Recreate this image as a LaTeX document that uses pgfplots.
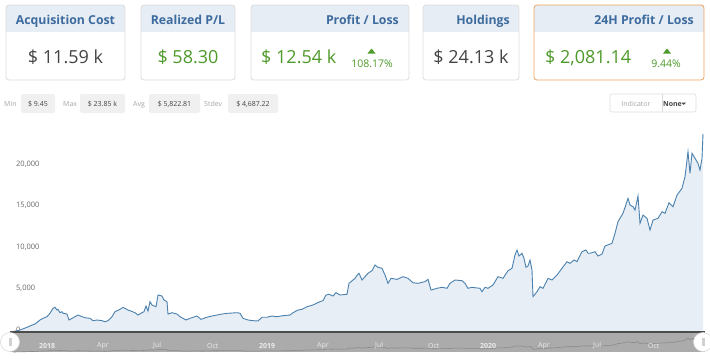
\documentclass[border=0pt]{standalone}
\usepackage{fontspec}
\setmainfont{Open Sans}
\usepackage{pgfplots}
\usepackage{pgfplotstable}
\pgfplotsset{compat=1.18}

\definecolor{cardhead}{HTML}{E6EDF5}
\definecolor{titleblue}{HTML}{3D6B9E}
\definecolor{valgreen}{HTML}{4E9A2A}
\definecolor{valgray}{HTML}{444444}
\definecolor{cardborder}{HTML}{DCDCDC}
\definecolor{orangeb}{HTML}{EBA35A}
\definecolor{linec}{HTML}{4A80AD}
\definecolor{fillc}{HTML}{E7EEF6}
\definecolor{navgray}{HTML}{ABABAB}
\definecolor{navline}{HTML}{8A8A8A}
\definecolor{statbox}{HTML}{F0F0F0}
\definecolor{statlab}{HTML}{A5A5A5}
\definecolor{stattxt}{HTML}{444444}
\definecolor{ticktxt}{HTML}{666666}

\pgfplotstableread{
x y
13 10
20 200
27 530
30 690
35 930
40 1410
43 1610
47 1810
50 2220
53 2820
55 2940
57 2610
58 2700
60 2290
62 2410
63 2220
67 2130
69 1410
72 1610
75 1810
78 2010
82 1810
85 1690
90 1610
93 1330
97 1410
102 1330
105 1200
108 1330
112 1810
115 2410
120 2700
123 2940
128 2610
130 2530
135 2290
138 2010
142 2290
144 2410
146 3100
148 2490
150 3620
152 3220
156 3010
158 4420
162 4300
164 3820
167 3620
168 2130
172 2290
177 2130
180 1810
186 1410
190 1610
197 1890
201 1490
207 1740
212 1890
217 2010
222 2130
228 2220
237 2290
240 2220
243 1610
248 1410
253 1330
258 1290
262 1740
267 1740
272 1890
277 1810
283 1930
290 2010
293 2290
298 2610
302 2700
307 3010
313 3220
320 3620
323 3740
326 4420
329 4510
333 4300
336 4700
340 4420
347 4510
349 5830
353 6230
355 6430
358 6950
359 7040
362 6230
365 6630
368 7040
372 7350
375 8040
378 7760
382 7640
385 6830
388 5830
391 6430
397 6310
403 6630
408 6430
413 5900
418 5830
425 6030
428 6310
431 5020
437 5230
442 5350
447 5230
450 5830
455 6230
462 6150
465 5830
468 5230
472 5350
475 5300
480 5230
482 4820
485 5350
488 5230
493 5630
498 6630
503 6430
508 7350
512 7640
515 9240
517 9850
519 9120
522 9450
524 8840
526 7760
528 7920
530 8640
532 7430
533 4220
537 4820
540 5420
543 5230
548 6430
552 6230
557 6830
562 7640
567 8440
570 8240
574 8640
577 8440
582 9640
586 9850
588 9450
590 9450
595 9640
598 9120
602 9360
605 10330
612 10650
615 11860
618 13260
623 14270
628 16070
630 15270
633 15060
635 14660
638 16350
640 13060
643 14060
647 13660
650 12250
653 13460
658 13660
662 14460
665 14270
669 15540
673 15060
677 16470
682 17280
685 18680
688 21690
690 19090
692 21500
695 20900
698 20290
700 19480
702 20900
703 23850
}\pricedata

\newcommand{\card}[3]{%
  \begin{scope}
    \clip[rounded corners=3] (#1,5) rectangle (#2,80);
    \fill[white] (#1,5) rectangle (#2,80);
    \fill[cardhead] (#1,5) rectangle (#2,32);
  \end{scope}
  \draw[#3, rounded corners=3, line width=0.8] (#1,5) rectangle (#2,80);
}
\newcommand{\titlefont}{\fontsize{12.3}{14}\selectfont\bfseries}
\newcommand{\valfont}{\fontsize{18}{20}\selectfont}
\newcommand{\pctfont}{\fontsize{10.5}{12}\selectfont}
\newcommand{\statfont}{\fontsize{7}{8}\selectfont}

\begin{document}
\begin{tikzpicture}
\path[use as bounding box] (0pt,0pt) rectangle (710pt,-359pt);
\begin{scope}[x=1pt,y=-1pt]
  % cards
  \card{6}{125}{cardborder}
  \card{141}{235}{cardborder}
  \card{251}{409}{cardborder}
  \card{423}{519}{cardborder}
  \card{534}{704}{orangeb}
  \node[anchor=base, inner sep=0, font=\titlefont, text=titleblue] at (65.5,24) {Acquisition Cost};
  \node[anchor=base, inner sep=0, font=\titlefont, text=titleblue] at (188,24) {Realized P/L};
  \node[anchor=base east, inner sep=0, font=\titlefont, text=titleblue] at (399,24) {Profit / Loss};
  \node[anchor=base east, inner sep=0, font=\titlefont, text=titleblue] at (510,24) {Holdings};
  \node[anchor=base east, inner sep=0, font=\titlefont, text=titleblue] at (694,24) {24H Profit / Loss};
  \node[anchor=base, inner sep=0, font=\valfont, text=valgray] at (65.5,63) {\$ 11.59 k};
  \node[anchor=base, inner sep=0, font=\valfont, text=valgreen] at (188,63) {\$ 58.30};
  \node[anchor=base west, inner sep=0, font=\valfont, text=valgreen] at (261,63) {\$ 12.54 k};
  \node[anchor=base, inner sep=0, font=\valfont, text=valgray] at (471,63) {\$ 24.13 k};
  \node[anchor=base west, inner sep=0, font=\valfont, text=valgreen] at (545,63) {\$ 2,081.14};
  \node[anchor=base, inner sep=0, font=\pctfont, text=valgreen] at (372,67) {108.17\%};
  \node[anchor=base, inner sep=0, font=\pctfont, text=valgreen] at (666,67) {9.44\%};
  \fill[valgreen] (367.5,53.5) -- (375.5,53.5) -- (371.5,48.5) -- cycle;
  \fill[valgreen] (663,53.5) -- (671,53.5) -- (667,48.5) -- cycle;
  % stats row
  \fill[statbox, rounded corners=2] (21,94) rectangle (55,113);
  \fill[statbox, rounded corners=2] (80,94) rectangle (125,113);
  \fill[statbox, rounded corners=2] (149,94) rectangle (200,113);
  \fill[statbox, rounded corners=2] (228,94) rectangle (278,113);
  \node[anchor=base west, inner sep=0, font=\statfont, text=statlab] at (4,106.5) {Min};
  \node[anchor=base west, inner sep=0, font=\statfont, text=statlab] at (63,106.5) {Max};
  \node[anchor=base west, inner sep=0, font=\statfont, text=statlab] at (133,106.5) {Avg};
  \node[anchor=base west, inner sep=0, font=\statfont, text=statlab] at (204,106.5) {Stdev};
  \node[anchor=base, inner sep=0, font=\statfont, text=stattxt] at (38,106.5) {\$ 9.45};
  \node[anchor=base, inner sep=0, font=\statfont, text=stattxt] at (102.5,106.5) {\$ 23.85 k};
  \node[anchor=base, inner sep=0, font=\statfont, text=stattxt] at (174.5,106.5) {\$ 5,822.81};
  \node[anchor=base, inner sep=0, font=\statfont, text=stattxt] at (253,106.5) {\$ 4,687.22};
  % indicator button
  \draw[cardborder, rounded corners=2, line width=0.6] (610,94) rectangle (696,112);
  \draw[cardborder, line width=0.6] (662,94) -- (662,112);
  \node[anchor=base, inner sep=0, font=\statfont, text=statlab] at (636,106) {Indicator};
  \node[anchor=base, inner sep=0, font=\statfont\bfseries, text=valgray] at (672.5,106) {None};
  \fill[valgray] (681.5,102.5) -- (686,102.5) -- (683.75,105) -- cycle;
  % navigator band
  \fill[navgray] (10,332) rectangle (705,352);
\end{scope}

% navigator mini series
\begin{axis}[
  at={(10pt,-352pt)}, anchor=south west,
  width=695pt, height=19pt, scale only axis,
  xmin=10, xmax=705, ymin=0, ymax=30000,
  hide axis, clip=false,
]
\addplot[navline, line width=0.6pt] table[x=x,y=y] {\pricedata};
\end{axis}

% main chart
\begin{axis}[
  at={(10pt,-331.7pt)}, anchor=south west,
  width=695pt, height=203.3pt, scale only axis,
  xmin=10, xmax=705, ymin=0, ymax=24500,
  axis line style={draw=none},
  tick style={draw=none},
  major tick length=0pt,
  ytick={0,5000,10000,15000,20000},
  yticklabel style={anchor=west, inner sep=0pt, xshift=6pt, yshift=1.5pt,
    font=\fontsize{7.5}{8}\selectfont, text=ticktxt},
  scaled y ticks=false,
  xtick={36,94,150,204,256,314,372,425,477,535,590,645},
  xticklabels={\textbf{2018},Apr,Jul,Oct,\textbf{2019},Apr,Jul,Oct,\textbf{2020},Apr,Jul,Oct},
  xticklabel style={anchor=west, inner sep=0pt, xshift=3pt, yshift=-14pt,
    font=\fontsize{7}{8}\selectfont, text=white!92!black},
  /pgf/number format/.cd, 1000 sep={,}, assume math mode=true,
]
\addplot[draw=none, fill=fillc] table[x=x,y=y] {\pricedata} \closedcycle;
\addplot[linec, line width=0.9pt] table[x=x,y=y] {\pricedata};
\end{axis}

\begin{scope}[x=1pt,y=-1pt]
  \draw[black!70, line width=1.5] (10,332) -- (705,332);
  \filldraw[fill=white, draw=black!15, line width=0.6] (10,342) circle (9.5);
  \fill[black!18] (8.5,338) rectangle (11.5,346);
  \filldraw[fill=white, draw=black!15, line width=0.6] (703,342) circle (9.5);
  \fill[black!18] (701.5,338) rectangle (704.5,346);
\end{scope}
\end{tikzpicture}
\end{document}
